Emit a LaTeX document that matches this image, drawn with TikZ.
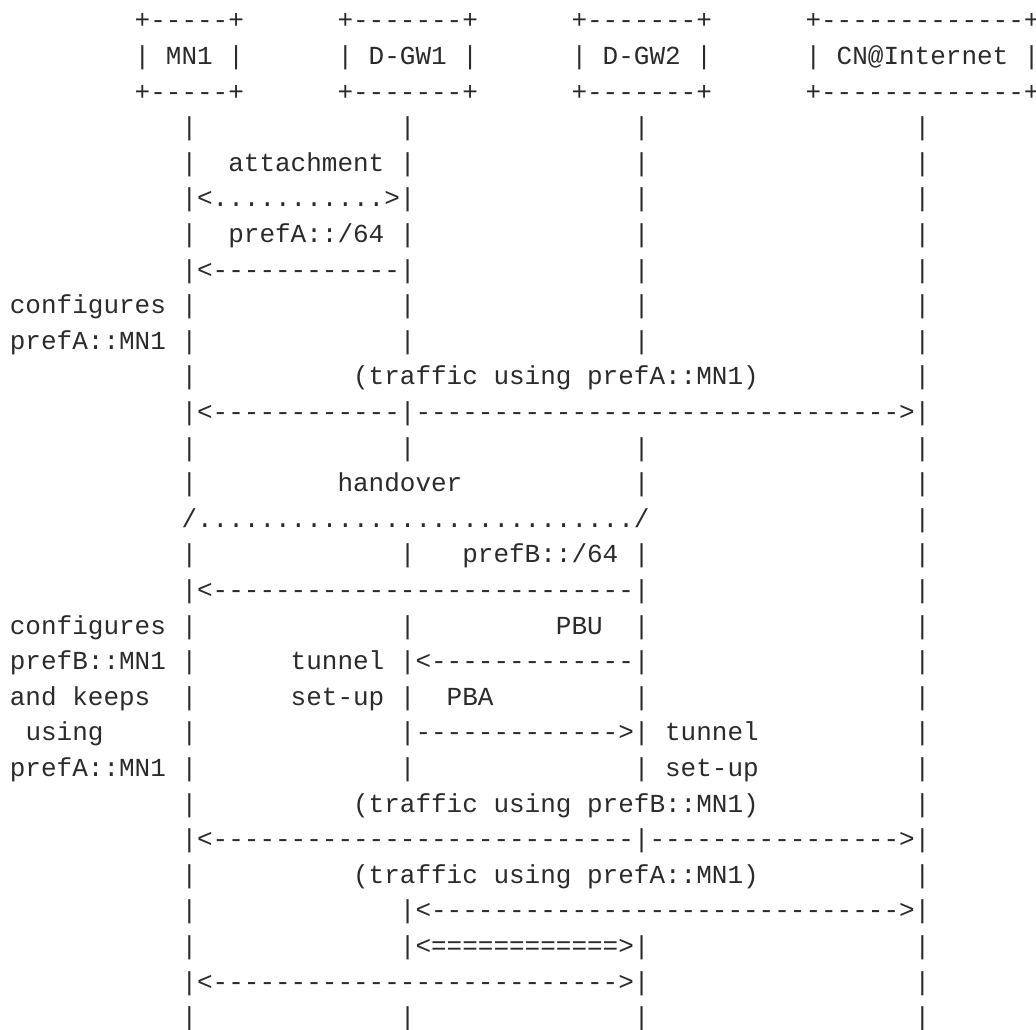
\documentclass[tikz,border=0pt]{standalone}
\usepackage{fontspec}
\newfontfamily\asciifont[Ligatures=TeXOff]{Liberation Mono}
\definecolor{ink}{HTML}{2B2B2B}
\ExplSyntaxOn
\cs_new:Npn \rp #1#2 { \prg_replicate:nn {#1} {#2} }
\ExplSyntaxOff
\tikzset{
  txt/.style={anchor=base west, inner sep=0pt, outer sep=0pt, text=ink,
    font=\asciifont\fontsize{26}{26}\selectfont\frenchspacing}
}
% place text at (row, column) of the character grid
\newcommand\asc[3]{\node[txt] (s#1-#2) at ({9.9+15.6*#2},{-28.8-35.6*(#1-1)}) {#3};}
\newcommand\lifebars[2]{\foreach \cc in {#2} {\asc{#1}{\cc}{|}}}
\begin{document}
\begin{tikzpicture}[x=1pt,y=1pt]
\useasboundingbox[fill=white] (0,0) rectangle (1036,-1029);
% boxes
\asc{1}{8}{+\rp{5}{-}+}
\asc{1}{21}{+\rp{7}{-}+}
\asc{1}{36}{+\rp{7}{-}+}
\asc{1}{51}{+\rp{13}{-}+}
\asc{2}{8}{| MN1 |}
\asc{2}{21}{| D-GW1 |}
\asc{2}{36}{| D-GW2 |}
\asc{2}{51}{| CN@Internet |}
\asc{3}{8}{+\rp{5}{-}+}
\asc{3}{21}{+\rp{7}{-}+}
\asc{3}{36}{+\rp{7}{-}+}
\asc{3}{51}{+\rp{13}{-}+}
% row 4
\lifebars{4}{11,25,40,58}
% row 5
\lifebars{5}{11,25,40,58}
\asc{5}{14}{attachment}
% row 6
\asc{6}{11}{|<\rp{11}{.}>|}
\lifebars{6}{40,58}
% row 7
\lifebars{7}{11,25,40,58}
\asc{7}{14}{prefA::/64}
% row 8
\asc{8}{11}{|<\rp{12}{-}|}
\lifebars{8}{40,58}
% row 9
\asc{9}{0}{configures}
\lifebars{9}{11,25,40,58}
% row 10
\asc{10}{0}{prefA::MN1}
\lifebars{10}{11,25,40,58}
% row 11
\lifebars{11}{11,58}
\asc{11}{22}{(traffic using prefA::MN1)}
% row 12
\asc{12}{11}{|<\rp{12}{-}|\rp{31}{-}>|}
% row 13
\lifebars{13}{11,25,40,58}
% row 14
\lifebars{14}{11,40,58}
\asc{14}{21}{handover}
% row 15
\asc{15}{11}{/\rp{28}{.}/}
\lifebars{15}{58}
% row 16
\lifebars{16}{11,25,40,58}
\asc{16}{29}{prefB::/64}
% row 17
\asc{17}{11}{|<\rp{27}{-}|}
\lifebars{17}{58}
% row 18
\asc{18}{0}{configures}
\lifebars{18}{11,25,40,58}
\asc{18}{35}{PBU}
% row 19
\asc{19}{0}{prefB::MN1}
\lifebars{19}{11,58}
\asc{19}{18}{tunnel}
\asc{19}{25}{|<\rp{13}{-}|}
% row 20
\asc{20}{0}{and keeps}
\lifebars{20}{11,25,40,58}
\asc{20}{18}{set-up}
\asc{20}{28}{PBA}
% row 21
\asc{21}{1}{using}
\lifebars{21}{11,58}
\asc{21}{25}{|\rp{13}{-}>|}
\asc{21}{42}{tunnel}
% row 22
\asc{22}{0}{prefA::MN1}
\lifebars{22}{11,25,40,58}
\asc{22}{42}{set-up}
% row 23
\lifebars{23}{11,58}
\asc{23}{22}{(traffic using prefB::MN1)}
% row 24
\asc{24}{11}{|<\rp{27}{-}|\rp{16}{-}>|}
% row 25
\lifebars{25}{11,58}
\asc{25}{22}{(traffic using prefA::MN1)}
% row 26
\lifebars{26}{11}
\asc{26}{25}{|<\rp{30}{-}>|}
% row 27
\lifebars{27}{11,58}
\asc{27}{25}{|<\rp{12}{=}>|}
% row 28
\asc{28}{11}{|<\rp{26}{-}>|}
\lifebars{28}{58}
% row 29
\lifebars{29}{11,25,40,58}
\end{tikzpicture}
\end{document}
